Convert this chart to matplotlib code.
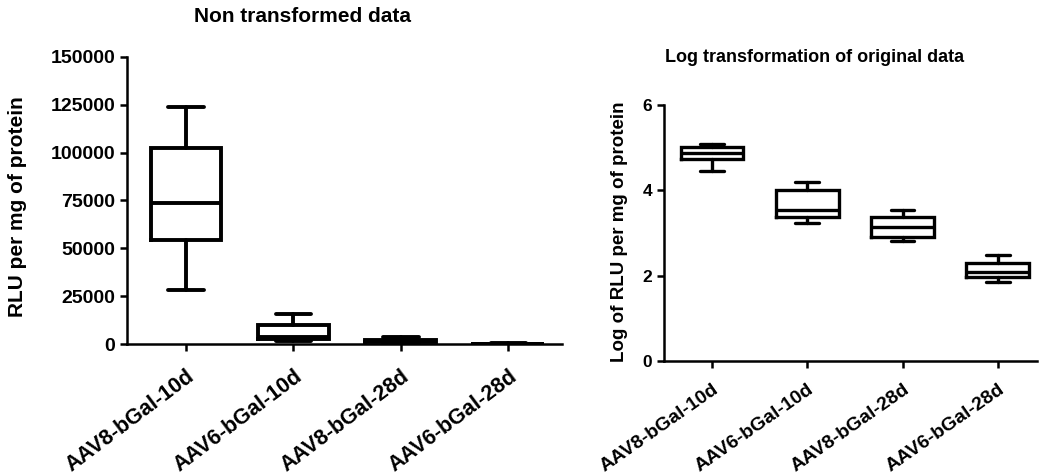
import matplotlib
matplotlib.use("Agg")
import matplotlib.pyplot as plt

plt.rcParams['font.family'] = ['Liberation Sans', 'DejaVu Sans']
plt.rcParams['font.weight'] = 'bold'

groups = ["AAV8-bGal-10d", "AAV6-bGal-10d", "AAV8-bGal-28d", "AAV6-bGal-28d"]

# raw RLU per mg (whisker low, q1, median, q3, whisker high)
raw_lo = [28200, 1700, 660, 72]
raw_q1 = [54400, 2400, 800, 95]
raw_med = [73500, 3550, 1350, 123]
raw_q3 = [102300, 10000, 2350, 195]
raw_hi = [124000, 15500, 3400, 300]

# log10 of the same
log_lo = [4.45, 3.23, 2.82, 1.86]
log_q1 = [4.74, 3.38, 2.90, 1.98]
log_med = [4.87, 3.55, 3.13, 2.09]
log_q3 = [5.01, 4.01, 3.37, 2.29]
log_hi = [5.09, 4.19, 3.53, 2.48]


def make_stats(lo, q1, med, q3, hi):
    stats = []
    for i in range(len(groups)):
        stats.append(dict(label=groups[i], whislo=lo[i], q1=q1[i], med=med[i],
                          q3=q3[i], whishi=hi[i], fliers=[]))
    return stats


def draw(ax, stats, lw, capw):
    line = dict(color='black', linewidth=lw, solid_capstyle='round')
    ax.bxp(stats, positions=[1, 2, 3, 4], widths=0.66, capwidths=capw,
           showfliers=False,
           boxprops=dict(color='black', linewidth=lw, solid_joinstyle='miter'),
           medianprops=dict(color='black', linewidth=lw, solid_capstyle='butt'),
           whiskerprops=line, capprops=line)
    for s in ['top', 'right']:
        ax.spines[s].set_visible(False)
    for s in ['left', 'bottom']:
        ax.spines[s].set_linewidth(1.8)
    ax.tick_params(direction='out', width=1.8, length=5)


fig = plt.figure(figsize=(10.39, 4.76), dpi=100)

ax1 = fig.add_axes([0.1222, 0.2773, 0.4187, 0.603])
draw(ax1, make_stats(raw_lo, raw_q1, raw_med, raw_q3, raw_hi), 2.8, 0.33)
ax1.set_xlim(0.45, 4.5)
ax1.set_ylim(0, 150000)
ax1.set_yticks([0, 25000, 50000, 75000, 100000, 125000, 150000])
ax1.set_yticklabels([str(v) for v in [0, 25000, 50000, 75000, 100000, 125000, 150000]],
                    fontsize=14, fontweight='bold')
ax1.set_xticks([1, 2, 3, 4])
ax1.set_xticklabels(groups, rotation=37, ha='right', va='top',
                    rotation_mode='anchor', fontsize=15.5, fontweight='bold')
ax1.tick_params(axis='x', pad=11)

ax2 = fig.add_axes([0.639, 0.2416, 0.359, 0.5378])
draw(ax2, make_stats(log_lo, log_q1, log_med, log_q3, log_hi), 2.4, 0.25)
ax2.set_xlim(0.496, 4.41)
ax2.set_ylim(0, 6)
ax2.set_yticks([0, 2, 4, 6])
ax2.set_yticklabels(['0', '2', '4', '6'], fontsize=12.5, fontweight='bold')
ax2.set_xticks([1, 2, 3, 4])
ax2.set_xticklabels(groups, rotation=35, ha='right', va='top',
                    rotation_mode='anchor', fontsize=14, fontweight='bold')
ax2.tick_params(axis='x', pad=9)

fig.text(303 / 1039, 1 - 16 / 476, "Non transformed data", ha='center', va='center',
         fontsize=15, fontweight='bold')
fig.text(815 / 1039, 1 - 57 / 476, "Log transformation of original data", ha='center',
         va='center', fontsize=13, fontweight='bold')
fig.text(18 / 1039, 1 - 207 / 476, "RLU per mg of protein", rotation=90, ha='center',
         va='center', fontsize=15, fontweight='bold')
fig.text(620 / 1039, 1 - 232 / 476, "Log of RLU per mg of protein", rotation=90,
         ha='center', va='center', fontsize=13.5, fontweight='bold')

fig.savefig("out.png", dpi=100)
